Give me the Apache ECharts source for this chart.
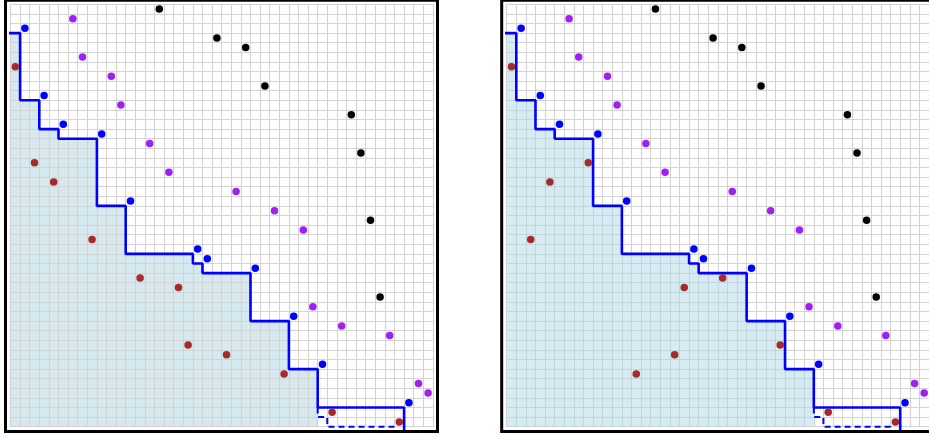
<!DOCTYPE html>
<html>
<head>
<meta charset="utf-8">
<script src="https://cdn.jsdelivr.net/npm/echarts@6/dist/echarts.min.js"></script>
<style>
html,body{margin:0;padding:0;background:#fff;}
#chart{width:929px;height:439px;}
</style>
</head>
<body>
<div id="chart"></div>
<script>
// grid extent (cells)
const gridMax = 44;
// points (cell coordinates, origin bottom-left)
const blackPts = [[15.5,43.5],[21.5,40.5],[24.5,39.5],[26.5,35.5],[35.5,32.5],[36.5,28.5],[37.5,21.5],[38.5,13.5]];
const purplePts = [[6.5,42.5],[7.5,38.5],[10.5,36.5],[11.5,33.5],[14.5,29.5],[16.5,26.5],[23.5,24.5],[27.5,22.5],[30.5,20.5],[31.5,12.5],[34.5,10.5],[39.5,9.5],[42.5,4.5],[43.5,3.5]];
const bluePts = [[1.5,41.5],[3.5,34.5],[5.5,31.5],[9.5,30.5],[12.5,23.5],[19.5,18.5],[20.5,17.5],[25.5,16.5],[29.5,11.5],[32.5,6.5],[41.5,2.5]];
const brownLeft = [[0.5,37.5],[2.5,27.5],[4.5,25.5],[8.5,19.5],[13.5,15.5],[17.5,14.5],[18.5,8.5],[22.5,7.5],[28.5,5.5],[33.5,1.5],[40.5,0.5]];
const brownRight = [[0.5,37.5],[8.5,27.5],[4.5,25.5],[2.5,19.5],[22.5,15.5],[18.5,14.5],[28.5,8.5],[17.5,7.5],[13.5,5.5],[33.5,1.5],[40.5,0.5]];
const dashedPts = [[33.5,1.5],[40.5,0.5]];
const shadeLimitX = 32;
const edge = -0.45;

// staircase through points, corners offset by half a cell
function stair(pts, startX, endY) {
  const out = [];
  pts.forEach((p, i) => {
    const cx = p[0] - 0.5, cy = p[1] - 0.5;
    if (i === 0) out.push([startX, cy]);
    else out.push([out[out.length-1][0], cy]);
    out.push([cx, cy]);
  });
  out.push([out[out.length-1][0], endY]);
  return out;
}
const stepLine = stair(bluePts, edge, edge);
const shade = stair(bluePts.filter(p => p[0]-0.5 <= shadeLimitX), 0, 0);
const lastBlue = bluePts[bluePts.length-1];
const dashLine = [[shadeLimitX, lastBlue[1]-0.5]].concat(stair(dashedPts, shadeLimitX, edge));

const panels = [
  {left: 10.5, brown: brownLeft, axisZ: 3, shadeColor: '#d6e9ef'},
  {left: 506.7, brown: brownRight, axisZ: 0, shadeColor: 'rgba(173,216,230,0.5)'}
];

const grids = [], xAxes = [], yAxes = [], series = [], graphics = [];
panels.forEach((p, i) => {
  grids.push({left: p.left, top: 4.3, width: 422.4, height: 422.4});
  const ax = {
    type: 'value', min: 0, max: gridMax, interval: 1, gridIndex: i, z: p.axisZ,
    axisLine: {show: false}, axisTick: {show: false}, axisLabel: {show: false},
    splitLine: {show: true, lineStyle: {color: '#d3d3d3', width: 1.1}}
  };
  xAxes.push(Object.assign({}, ax));
  yAxes.push(Object.assign({}, ax));
  series.push({
    type: 'line', xAxisIndex: i, yAxisIndex: i, data: shade, symbol: 'none',
    lineStyle: {width: 0, opacity: 0}, areaStyle: {color: p.shadeColor, opacity: 1},
    z: 1, silent: true
  });
  series.push({
    type: 'line', xAxisIndex: i, yAxisIndex: i, data: stepLine, symbol: 'none', clip: false,
    lineStyle: {color: '#0000ff', width: 2.6}, z: 4
  });
  series.push({
    type: 'line', xAxisIndex: i, yAxisIndex: i, data: dashLine, symbol: 'none', clip: false,
    lineStyle: {color: '#0000ff', width: 2, type: [6, 4]}, z: 4
  });
  const sc = (data, color) => ({
    type: 'scatter', xAxisIndex: i, yAxisIndex: i, data: data, symbolSize: 7.5,
    itemStyle: {color: color, opacity: 1}, z: 5, clip: false
  });
  series.push(sc(blackPts, '#000000'));
  series.push(sc(purplePts, '#a020f0'));
  series.push(sc(bluePts, '#0000ff'));
  series.push(sc(p.brown, '#a52a2a'));
  graphics.push({
    type: 'rect', z: 100, silent: true,
    shape: {x: p.left - 5, y: 0.3, width: 432, height: 431.2},
    style: {fill: null, stroke: '#000', lineWidth: 3}
  });
});

const chart = echarts.init(document.getElementById('chart'), null, {renderer: 'canvas'});
chart.setOption({
  animation: false,
  backgroundColor: '#fff',
  grid: grids, xAxis: xAxes, yAxis: yAxes, series: series, graphic: graphics
});
</script>
</body>
</html>
